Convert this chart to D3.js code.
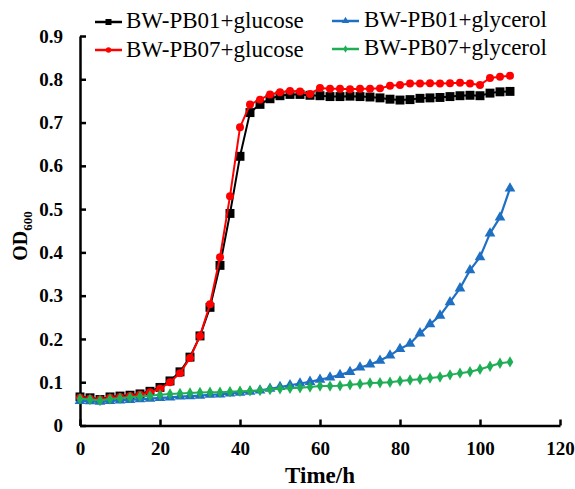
<!DOCTYPE html>
<html>
<head>
<meta charset="utf-8">
<script src="https://cdn.jsdelivr.net/npm/d3@7/dist/d3.min.js"></script>
<style>
  html, body { margin: 0; padding: 0; background: #fff; }
  svg { display: block; }
  svg text { font-family: "Liberation Serif", "Tinos", "DejaVu Serif", serif !important; }
</style>
</head>
<body>
<svg id="chart" width="575" height="489"></svg>
<script>
// ---- data ----
const timeH = [0,2.5,5,7.5,10,12.5,15,17.5,20,22.5,25,27.5,30,32.5,35,37.5,40,42.5,45,47.5,50,52.5,55,57.5,60,62.5,65,67.5,70,72.5,75,77.5,80,82.5,85,87.5,90,92.5,95,97.5,100,102.5,105,107.5];
const pb01Glucose = [.066,.064,.060,.066,.068,.070,.073,.079,.088,.103,.124,.158,.207,.273,.370,.490,.622,.723,.742,.755,.762,.765,.765,.763,.762,.760,.760,.761,.760,.759,.757,.754,.752,.753,.756,.757,.758,.760,.762,.763,.762,.768,.771,.772];
const pb07Glucose = [.064,.062,.060,.064,.066,.068,.071,.077,.085,.100,.121,.156,.207,.280,.389,.530,.689,.742,.753,.765,.770,.773,.772,.766,.780,.778,.778,.777,.778,.778,.779,.785,.787,.790,.790,.791,.790,.791,.792,.790,.787,.803,.806,.808];
const pb01Glycerol = [.057,.056,.055,.057,.058,.059,.061,.062,.064,.065,.067,.068,.069,.071,.072,.074,.076,.078,.081,.085,.089,.093,.097,.101,.106,.111,.117,.124,.134,.141,.150,.162,.177,.189,.213,.234,.254,.285,.317,.359,.389,.444,.481,.548];
const pb07Glycerol = [.062,.060,.058,.061,.063,.065,.067,.069,.071,.073,.074,.075,.076,.077,.077,.078,.079,.080,.081,.083,.085,.086,.087,.089,.091,.091,.092,.094,.096,.098,.099,.100,.103,.105,.107,.110,.112,.117,.121,.124,.130,.137,.144,.147];
const seriesNames = ["BW-PB01+glucose","BW-PB07+glucose","BW-PB01+glycerol","BW-PB07+glycerol"];
const xTicks = [0,20,40,60,80,100,120];
const yTicks = [0,0.1,0.2,0.3,0.4,0.5,0.6,0.7,0.8,0.9];

// ---- styles ----
const FONT = "'Liberation Serif', 'Tinos', 'DejaVu Serif', serif";
const styles = [
  {color:"#000000", symbol:d3.symbolSquare, size:80, width:2},
  {color:"#ff0000", symbol:d3.symbolCircle, size:50, width:2},
  {color:"#1f6fc2", symbol:d3.symbolTriangle, size:50, width:2.2},
  {color:"#1fae55", symbol:d3.symbolDiamond, size:38, width:2}
];
const values = [pb01Glucose, pb07Glucose, pb01Glycerol, pb07Glycerol];

const svg = d3.select("#chart");
const x = d3.scaleLinear().domain([0,120]).range([80,560]);
const y = d3.scaleLinear().domain([0,0.9]).range([425.5,36]);

// axes
const xAxis = d3.axisBottom(x).tickValues(xTicks).tickSizeInner(-6).tickSizeOuter(0).tickPadding(16).tickFormat(d3.format("d"));
const yAxis = d3.axisLeft(y).tickValues(yTicks).tickSizeInner(-6).tickSizeOuter(0).tickPadding(17).tickFormat(d => d === 0 ? "0" : d.toFixed(1));

const gx = svg.append("g").attr("transform", `translate(0,${y(0)})`).call(xAxis);
const gy = svg.append("g").attr("transform", `translate(${x(0)},0)`).call(yAxis);
[gx, gy].forEach(g => {
  g.attr("font-family", FONT);
  g.select(".domain").attr("stroke","#000").attr("stroke-width",2.5);
  g.selectAll(".tick line").attr("stroke","#000").attr("stroke-width",2.5);
  g.selectAll(".tick text").attr("fill","#000").attr("font-family", FONT)
    .attr("font-size", 19).attr("font-weight","bold");
});

// axis titles
svg.append("text").attr("x",320).attr("y",483).attr("text-anchor","middle").attr("font-family", FONT)
  .attr("font-size",23).attr("font-weight","bold").text("Time/h");
const yt = svg.append("text").attr("transform","translate(27,236) rotate(-90)").attr("text-anchor","middle")
  .attr("font-family", FONT).attr("font-size",20).attr("font-weight","bold");
yt.append("tspan").text("OD");
yt.append("tspan").attr("dy",5).attr("font-size",13).text("600");

// series
const line = d3.line().x((d,i) => x(timeH[i])).y(d => y(d));
values.forEach((vals, k) => {
  const st = styles[k];
  const g = svg.append("g");
  g.append("path").datum(vals).attr("d", line).attr("fill","none")
    .attr("stroke", st.color).attr("stroke-width", st.width).attr("stroke-linejoin","round");
  g.selectAll("path.m").data(vals).join("path").attr("class","m")
    .attr("transform", (d,i) => `translate(${x(timeH[i])},${y(d)})`)
    .attr("d", d3.symbol().type(st.symbol).size(st.size)).attr("fill", st.color);
});

// legend
const legendPos = [
  {lx:95, tx:126, ly:22, ty:28},
  {lx:95, tx:126, ly:50, ty:57},
  {lx:332, tx:364, ly:21, ty:27},
  {lx:332, tx:364, ly:49, ty:55}
];
seriesNames.forEach((name, k) => {
  const p = legendPos[k], st = styles[k];
  const g = svg.append("g");
  g.append("line").attr("x1",p.lx).attr("x2",p.lx+27).attr("y1",p.ly).attr("y2",p.ly)
    .attr("stroke",st.color).attr("stroke-width",2.5);
  g.append("path").attr("transform",`translate(${p.lx+13.5},${p.ly})`)
    .attr("d", d3.symbol().type(st.symbol).size(st.size*0.45)).attr("fill",st.color);
  g.append("text").attr("x",p.tx).attr("y",p.ty).attr("font-family", FONT).attr("font-size",23)
    .attr("fill","#000").text(name);
});
</script>
</body>
</html>
